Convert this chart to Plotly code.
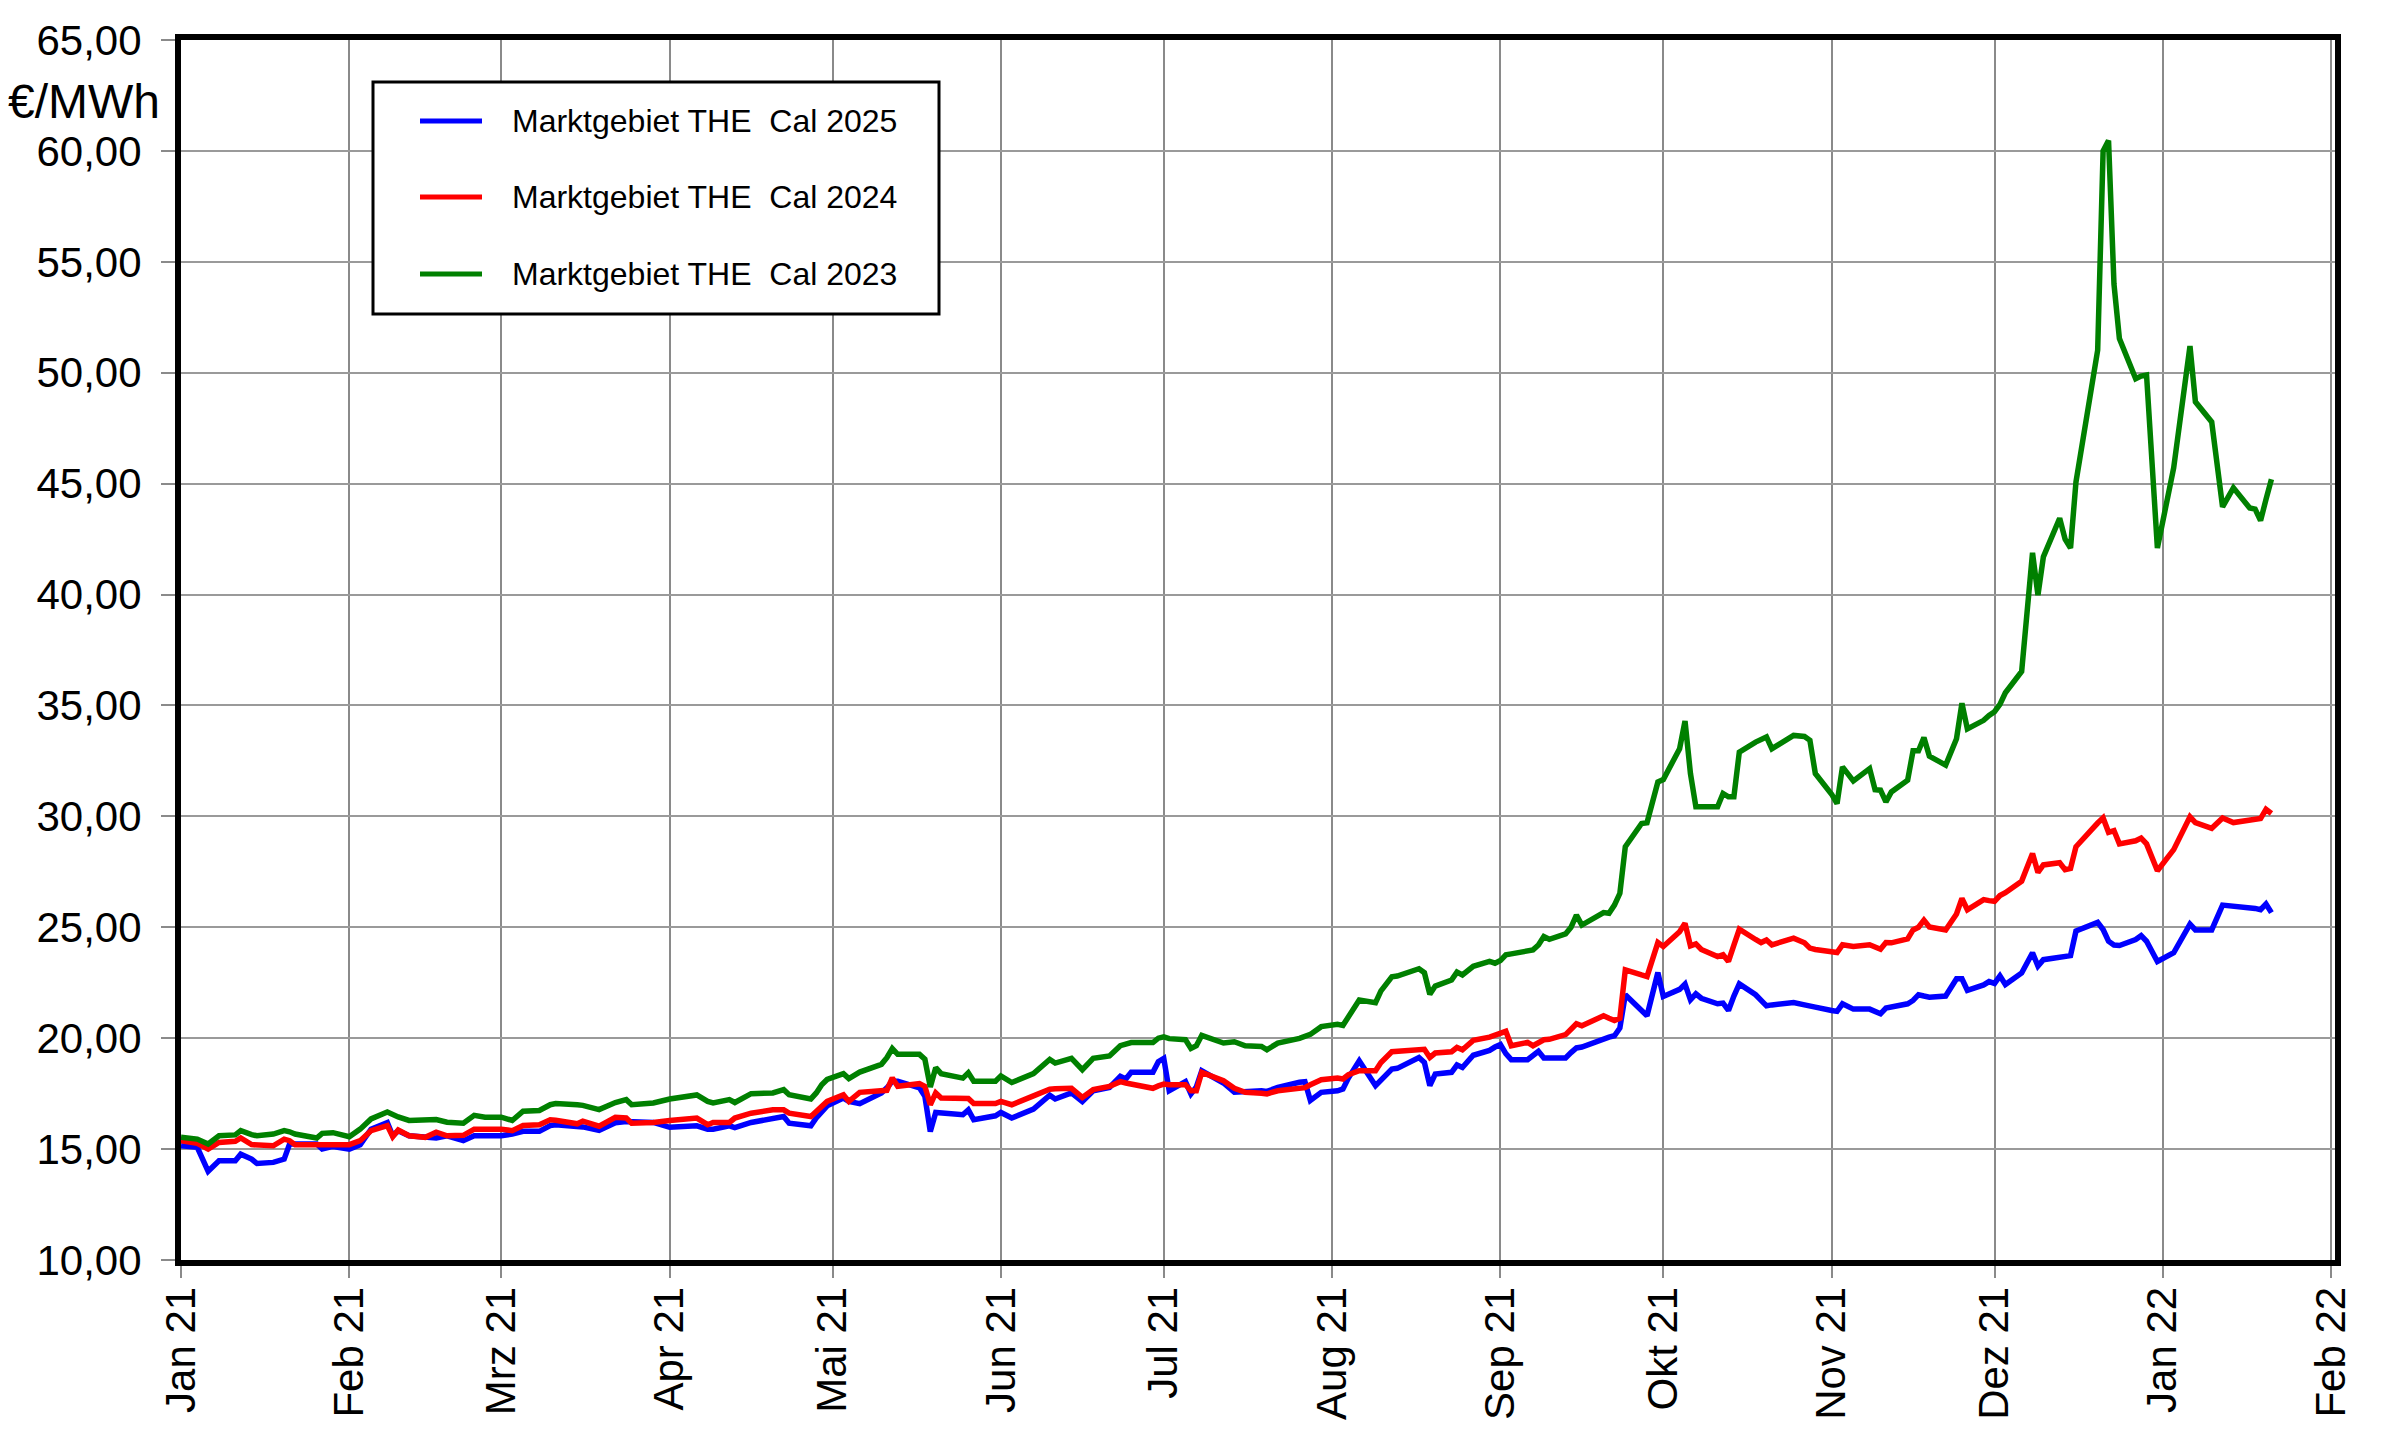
import plotly.graph_objects as go

dates = [
    "2021-01-01", "2021-01-04", "2021-01-06", "2021-01-08", "2021-01-11", "2021-01-12", "2021-01-14",
    "2021-01-15", "2021-01-18", "2021-01-20", "2021-01-21", "2021-01-22", "2021-01-26", "2021-01-27",
    "2021-01-29", "2021-02-01", "2021-02-03", "2021-02-05", "2021-02-08", "2021-02-09", "2021-02-10",
    "2021-02-12", "2021-02-15", "2021-02-17", "2021-02-19", "2021-02-22", "2021-02-24", "2021-02-26",
    "2021-03-01", "2021-03-03", "2021-03-05", "2021-03-08", "2021-03-10", "2021-03-11", "2021-03-15",
    "2021-03-16", "2021-03-19", "2021-03-22",
    "2021-03-24", "2021-03-25", "2021-03-29", "2021-04-01", "2021-04-06", "2021-04-08", "2021-04-09",
    "2021-04-12", "2021-04-13", "2021-04-16", "2021-04-20", "2021-04-22", "2021-04-23", "2021-04-27",
    "2021-04-28", "2021-04-29", "2021-04-30", "2021-05-03", "2021-05-04", "2021-05-06", "2021-05-10",
    "2021-05-11", "2021-05-12", "2021-05-13", "2021-05-17", "2021-05-18", "2021-05-19", "2021-05-20",
    "2021-05-21", "2021-05-25", "2021-05-26", "2021-05-27", "2021-05-31", "2021-06-01", "2021-06-03",
    "2021-06-07", "2021-06-10",
    "2021-06-11", "2021-06-14", "2021-06-16", "2021-06-18", "2021-06-21", "2021-06-23", "2021-06-24",
    "2021-06-25", "2021-06-29", "2021-06-30", "2021-07-01", "2021-07-02", "2021-07-05", "2021-07-06",
    "2021-07-07", "2021-07-08", "2021-07-12", "2021-07-14", "2021-07-16", "2021-07-19", "2021-07-20",
    "2021-07-22", "2021-07-26", "2021-07-27", "2021-07-28", "2021-07-30", "2021-08-02", "2021-08-03",
    "2021-08-04", "2021-08-06", "2021-08-09", "2021-08-10", "2021-08-12", "2021-08-13", "2021-08-17",
    "2021-08-18", "2021-08-19", "2021-08-20", "2021-08-23", "2021-08-24", "2021-08-25", "2021-08-27",
    "2021-08-30", "2021-08-31", "2021-09-01", "2021-09-02", "2021-09-03", "2021-09-06", "2021-09-07",
    "2021-09-08", "2021-09-09", "2021-09-10", "2021-09-13", "2021-09-14", "2021-09-15", "2021-09-16",
    "2021-09-20", "2021-09-21", "2021-09-22", "2021-09-23", "2021-09-24", "2021-09-27", "2021-09-28",
    "2021-09-30", "2021-10-01", "2021-10-04", "2021-10-05", "2021-10-06", "2021-10-07", "2021-10-08",
    "2021-10-11", "2021-10-12", "2021-10-13", "2021-10-14", "2021-10-15", "2021-10-18", "2021-10-19",
    "2021-10-20", "2021-10-21", "2021-10-25", "2021-10-27", "2021-10-28", "2021-10-29", "2021-11-01",
    "2021-11-02", "2021-11-03", "2021-11-05", "2021-11-08", "2021-11-09", "2021-11-10", "2021-11-11",
    "2021-11-12", "2021-11-15",
    "2021-11-16", "2021-11-17", "2021-11-18", "2021-11-19", "2021-11-22", "2021-11-24", "2021-11-25",
    "2021-11-26", "2021-11-29", "2021-11-30", "2021-12-01", "2021-12-02", "2021-12-03", "2021-12-06",
    "2021-12-08", "2021-12-09", "2021-12-10", "2021-12-13", "2021-12-14", "2021-12-15", "2021-12-16",
    "2021-12-20", "2021-12-21", "2021-12-22", "2021-12-23", "2021-12-24", "2021-12-27", "2021-12-28",
    "2021-12-29", "2021-12-31", "2022-01-03", "2022-01-06", "2022-01-07", "2022-01-10", "2022-01-12",
    "2022-01-14", "2022-01-17", "2022-01-18", "2022-01-19", "2022-01-20", "2022-01-21",
]

cal2025 = [
    15.15, 15.08, 14.00, 14.47, 14.47, 14.77, 14.55,
    14.35, 14.40, 14.55, 15.23, 15.23, 15.23, 15.00,
    15.12, 15.00, 15.20, 15.90, 16.20, 15.60, 15.83,
    15.60, 15.53, 15.50, 15.60, 15.38, 15.60, 15.58,
    15.60, 15.68, 15.80, 15.80, 16.06, 16.10, 15.98,
    16.00, 15.84, 16.19,
    16.24, 16.24, 16.20, 15.98, 16.05, 15.90, 15.90,
    16.05, 15.97, 16.20, 16.35, 16.47, 16.17, 16.05,
    16.40, 16.70, 16.95, 17.30, 17.15, 17.05, 17.53,
    17.76, 18.06, 18.06, 17.76, 17.38, 15.79, 16.65,
    16.62, 16.55, 16.77, 16.32, 16.50, 16.65, 16.40,
    16.80, 17.43,
    17.26, 17.53, 17.14, 17.63, 17.78, 18.28, 18.16,
    18.46, 18.46, 18.94, 19.09, 17.63, 18.04, 17.49,
    17.80, 18.53, 17.98, 17.56, 17.60, 17.63, 17.60,
    17.78, 18.01, 18.04, 17.19, 17.56, 17.63, 17.71,
    18.20, 18.98, 17.86, 18.10, 18.61, 18.64, 19.13,
    18.91, 17.86, 18.38, 18.46, 18.79, 18.68, 19.23,
    19.45, 19.60, 19.71, 19.30, 19.03, 19.03, 19.20,
    19.41, 19.11, 19.11, 19.11, 19.35, 19.56, 19.60,
    20.00, 20.05, 20.11, 20.46, 21.96, 21.20, 21.01,
    22.96, 21.88, 22.20, 22.44, 21.73, 22.00, 21.80,
    21.55, 21.58, 21.25, 21.90, 22.45, 21.96, 21.70,
    21.46, 21.50, 21.61, 21.50, 21.43, 21.40, 21.25,
    21.21, 21.55, 21.31, 21.31, 21.20, 21.10, 21.36,
    21.40, 21.55,
    21.70, 21.96, 21.90, 21.85, 21.90, 22.68, 22.68,
    22.16, 22.40, 22.55, 22.47, 22.81, 22.42, 22.94,
    23.85, 23.25, 23.54, 23.65, 23.70, 23.72, 24.83,
    25.22, 24.90, 24.37, 24.20, 24.18, 24.45, 24.62,
    24.37, 23.46, 23.85, 25.14, 24.88, 24.88, 26.00,
    25.95, 25.92, 25.85, 25.79, 26.05, 25.66,
]

cal2024 = [
    15.38, 15.26, 15.00, 15.30, 15.35, 15.50, 15.20,
    15.18, 15.15, 15.45, 15.38, 15.20, 15.20, 15.25,
    15.26, 15.20, 15.38, 15.83, 16.06, 15.56, 15.86,
    15.60, 15.53, 15.76, 15.60, 15.62, 15.90, 15.90,
    15.90, 15.83, 16.06, 16.10, 16.32, 16.30, 16.14,
    16.26, 16.03, 16.43,
    16.40, 16.17, 16.20, 16.29, 16.40, 16.10, 16.20,
    16.20, 16.40, 16.62, 16.77, 16.77, 16.62, 16.47,
    16.70, 16.90, 17.15, 17.45, 17.15, 17.56, 17.60,
    17.65, 18.21, 17.83, 17.95, 17.83, 17.00, 17.53,
    17.30, 17.26, 17.28, 17.05, 17.05, 17.15, 17.00,
    17.40, 17.70,
    17.72, 17.74, 17.33, 17.68, 17.83, 18.04, 17.98,
    17.93, 17.74, 17.85, 17.93, 17.90, 17.90, 17.63,
    17.63, 18.46, 18.08, 17.74, 17.56, 17.52, 17.49,
    17.63, 17.77, 17.77, 17.90, 18.13, 18.20, 18.16,
    18.35, 18.53, 18.53, 18.90, 19.39, 19.41, 19.48,
    19.50, 19.13, 19.33, 19.39, 19.58, 19.48, 19.90,
    20.05, 20.15, 20.25, 20.31, 19.66, 19.81, 19.66,
    19.80, 19.93, 19.95, 20.16, 20.40, 20.65, 20.56,
    21.01, 20.90, 20.80, 20.90, 23.08, 22.85, 22.78,
    24.31, 24.13, 24.80, 25.18, 24.16, 24.25, 24.00,
    23.68, 23.76, 23.46, 24.20, 24.91, 24.45, 24.31,
    24.43, 24.21, 24.51, 24.30, 24.06, 24.00, 23.90,
    23.86, 24.21, 24.13, 24.21, 24.10, 24.01, 24.31,
    24.30, 24.48,
    24.88, 25.00, 25.32, 25.01, 24.88, 25.60, 26.30,
    25.79, 26.25, 26.20, 26.17, 26.43, 26.56, 27.08,
    28.32, 27.47, 27.81, 27.91, 27.60, 27.65, 28.63,
    29.70, 29.93, 29.28, 29.36, 28.76, 28.90, 29.02,
    28.76, 27.55, 28.50, 29.98, 29.72, 29.46, 29.93,
    29.72, 29.80, 29.82, 29.90, 30.32, 30.13,
]

cal2023 = [
    15.53, 15.45, 15.23, 15.60, 15.64, 15.83, 15.65,
    15.60, 15.68, 15.83, 15.78, 15.68, 15.50, 15.71,
    15.74, 15.56, 15.90, 16.36, 16.67, 16.55, 16.45,
    16.29, 16.29, 16.33, 16.21, 16.17, 16.52, 16.44,
    16.44, 16.29, 16.71, 16.74, 17.00, 17.05, 17.00,
    16.97, 16.78, 17.10,
    17.23, 17.00, 17.08, 17.26, 17.44, 17.15, 17.08,
    17.23, 17.10, 17.50, 17.53, 17.68, 17.45, 17.26,
    17.53, 17.90, 18.14, 18.40, 18.18, 18.47, 18.82,
    19.12, 19.53, 19.27, 19.27, 19.05, 17.80, 18.67,
    18.40, 18.20, 18.44, 18.06, 18.06, 18.30, 18.00,
    18.40, 19.04,
    18.88, 19.09, 18.58, 19.09, 19.20, 19.66, 19.73,
    19.80, 19.80, 20.00, 20.06, 19.98, 19.93, 19.54,
    19.66, 20.13, 19.78, 19.84, 19.66, 19.63, 19.48,
    19.78, 19.99, 20.10, 20.17, 20.52, 20.63, 20.58,
    20.93, 21.72, 21.60, 22.13, 22.77, 22.80, 23.13,
    22.95, 21.98, 22.35, 22.62, 22.98, 22.85, 23.24,
    23.46, 23.38, 23.50, 23.76, 23.80, 23.91, 23.98,
    24.20, 24.58, 24.46, 24.70, 25.00, 25.55, 25.10,
    25.66, 25.63, 26.00, 26.53, 28.63, 29.68, 29.71,
    31.55, 31.66, 33.05, 34.30, 31.93, 30.43, 30.43,
    30.43, 31.03, 30.88, 30.88, 32.90, 33.35, 33.50,
    33.58, 33.05, 33.65, 33.60, 33.43, 31.93, 31.00,
    30.58, 32.23, 31.60, 32.15, 31.20, 31.18, 30.65,
    31.10, 31.63,
    32.96, 32.96, 33.55, 32.72, 32.31, 33.50, 35.10,
    33.94, 34.33, 34.55, 34.72, 35.05, 35.57, 36.53,
    41.88, 39.97, 41.70, 43.44, 42.50, 42.10, 45.07,
    51.02, 60.00, 60.47, 54.00, 51.54, 49.73, 49.85,
    49.90, 42.10, 45.71, 51.20, 48.69, 47.78, 43.95,
    44.81, 43.90, 43.85, 43.33, 44.29, 45.20,
]

series_names = ["Marktgebiet THE  Cal 2025", "Marktgebiet THE  Cal 2024", "Marktgebiet THE  Cal 2023"]
series_values = [cal2025, cal2024, cal2023]
series_colors = ["#0000ff", "#ff0000", "#008000"]

tick_dates = ["2021-01-01", "2021-02-01", "2021-03-01", "2021-04-01", "2021-05-01", "2021-06-01",
              "2021-07-01", "2021-08-01", "2021-09-01", "2021-10-01", "2021-11-01", "2021-12-01",
              "2022-01-01", "2022-02-01"]
tick_labels = ["Jan 21", "Feb 21", "Mrz 21", "Apr 21", "Mai 21", "Jun 21", "Jul 21", "Aug 21",
               "Sep 21", "Okt 21", "Nov 21", "Dez 21", "Jan 22", "Feb 22"]
y_ticks = [10, 15, 20, 25, 30, 35, 40, 45, 50, 55, 60, 65]
y_unit = "€/MWh"

FONT = "Liberation Sans, Arial, sans-serif"

fig = go.Figure()
for name, vals, col in zip(series_names, series_values, series_colors):
    fig.add_trace(go.Scatter(x=dates, y=vals, mode="lines", name=name,
                             line=dict(color=col, width=5.5), showlegend=False))

# page = figure (body margin removed below); plot area in page pixels
W, H = 2400, 1439
L, T, PW, PH = 181, 40, 2154, 1220

def px(fx):
    return (fx - L) / PW

def py(fy):
    return 1 - (fy - T) / PH

shapes = [
    dict(type="rect", xref="paper", yref="paper", x0=px(373), x1=px(939), y0=py(314), y1=py(82),
         line=dict(color="black", width=3), fillcolor="white", layer="above"),
]
annotations = [
    dict(text=y_unit, xref="paper", yref="paper", x=px(6), y=py(101), xanchor="left", yanchor="middle",
         showarrow=False, font=dict(family=FONT, size=48, color="black")),
]
leg_y = [121, 197, 274]
for name, col, ly in zip(series_names, series_colors, leg_y):
    shapes.append(dict(type="line", xref="paper", yref="paper", x0=px(420), x1=px(482), y0=py(ly), y1=py(ly),
                       line=dict(color=col, width=5), layer="above"))
    annotations.append(dict(text=name, xref="paper", yref="paper", x=px(510), y=py(ly), xanchor="left",
                            yanchor="middle", showarrow=False,
                            font=dict(family=FONT, size=32, color="black")))

fig.update_layout(
    width=W, height=H,
    margin=dict(l=L, r=W - L - PW, t=T, b=H - T - PH),
    paper_bgcolor="white", plot_bgcolor="white",
    separators=",.",
    font=dict(family=FONT, size=42, color="black"),
    shapes=shapes, annotations=annotations,
    xaxis=dict(type="date", range=["2021-01-01", "2022-02-01 17:00"],
               tickvals=tick_dates, ticktext=tick_labels, tickangle=-90,
               showgrid=True, gridcolor="#8a8a8a", gridwidth=1.5,
               showline=True, linecolor="black", linewidth=6, mirror=True,
               ticks="outside", ticklen=12, tickwidth=1.5, tickcolor="#8a8a8a",
               ticklabelstandoff=-8, zeroline=False,
               tickfont=dict(family=FONT, size=42, color="black")),
    yaxis=dict(range=[10, 65], tickvals=y_ticks, tickformat=".2f",
               showgrid=True, gridcolor="#9a9a9a", gridwidth=2,
               showline=True, linecolor="black", linewidth=6, mirror=True,
               ticks="outside", ticklen=14, tickwidth=1.5, tickcolor="#8a8a8a",
               ticklabelstandoff=11, zeroline=False,
               tickfont=dict(family=FONT, size=42, color="black")),
)

fig.write_html(
    "out.html",
    config={"displayModeBar": False},
    post_script="document.body.style.margin='0';document.body.style.overflow='hidden';"
                "document.documentElement.style.overflow='hidden';",
)
